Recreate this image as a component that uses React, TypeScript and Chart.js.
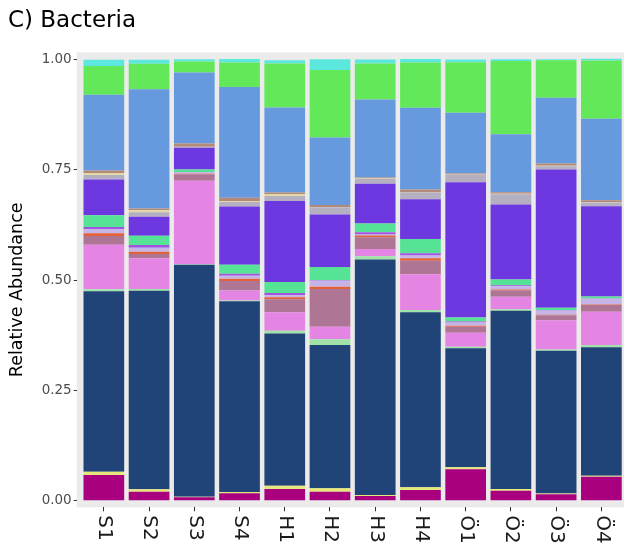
import React, { useEffect, useRef } from "react";
import { Chart, registerables } from "chart.js";

Chart.register(...registerables);

const categories = ["S1", "S2", "S3", "S4", "H1", "H2", "H3", "H4", "Ö1", "Ö2", "Ö3", "Ö4"];
const yTicks = [0, 0.25, 0.5, 0.75, 1.0];

// stacked bottom -> top
const magenta = [0.058, 0.0204, 0.0077, 0.0168, 0.0265, 0.0204, 0.0106, 0.0242, 0.0711, 0.0227, 0.0145, 0.0544];
const yellow = [0.0075, 0.0054, 0.001, 0.003, 0.0075, 0.0077, 0.002, 0.006, 0.0045, 0.0038, 0.002, 0.0023];
const navy = [0.409, 0.45, 0.526, 0.432, 0.345, 0.3246, 0.534, 0.3965, 0.2696, 0.404, 0.323, 0.291];
const lightGreen = [0.0045, 0.004, 0.001, 0.002, 0.006, 0.0129, 0.0075, 0.0052, 0.0036, 0.0032, 0.003, 0.0052];
const pink = [0.101, 0.0696, 0.189, 0.0227, 0.0417, 0.0285, 0.016, 0.081, 0.0317, 0.0285, 0.0664, 0.0754];
const mauve = [0.02, 0.0097, 0.015, 0.0213, 0.0295, 0.0854, 0.027, 0.031, 0.0136, 0.0143, 0.0113, 0.0152];
const orange = [0.006, 0.0052, 0.001, 0.005, 0.0045, 0.0052, 0.004, 0.0054, 0.002, 0.002, 0.001, 0.001];
const lavender = [0.009, 0.009, 0.004, 0.007, 0.005, 0.0136, 0.002, 0.006, 0.0077, 0.0075, 0.0097, 0.0129];
const violet = [0.005, 0.006, 0, 0.0045, 0.005, 0.001, 0.005, 0.0054, 0.002, 0.002, 0.001, 0.001];
const teal = [0.0265, 0.021, 0.006, 0.0204, 0.025, 0.0304, 0.0197, 0.0324, 0.009, 0.013, 0.0054, 0.0045];
const purple = [0.081, 0.043, 0.049, 0.132, 0.1835, 0.1185, 0.0906, 0.09, 0.307, 0.17, 0.313, 0.204];
const grey = [0.0104, 0.01, 0.002, 0.01, 0.011, 0.0165, 0.0106, 0.015, 0.0165, 0.0233, 0.0075, 0.009];
const beige = [0.0045, 0.005, 0, 0.002, 0.004, 0.001, 0.001, 0.001, 0.001, 0.001, 0.001, 0.001];
const tan = [0.006, 0.004, 0.0075, 0.0075, 0.004, 0.0045, 0.0023, 0.006, 0.0023, 0.0038, 0.0054, 0.0036];
const lightBlue = [0.1715, 0.27, 0.161, 0.251, 0.1926, 0.1527, 0.177, 0.185, 0.1375, 0.1314, 0.1486, 0.185];
const green = [0.065, 0.058, 0.025, 0.0557, 0.0997, 0.153, 0.0816, 0.103, 0.1146, 0.166, 0.0854, 0.132];
const cyan = [0.0145, 0.009, 0.005, 0.0077, 0.0075, 0.0242, 0.009, 0.0077, 0.006, 0.0038, 0.002, 0.0038];

const seriesList: [string, number[], string][] = [
  ["magenta", magenta, "#A8007F"],
  ["yellow", yellow, "#E6E87A"],
  ["navy", navy, "#214478"],
  ["lightGreen", lightGreen, "#9FE3A8"],
  ["pink", pink, "#E585E3"],
  ["mauve", mauve, "#AE7595"],
  ["orange", orange, "#E2603A"],
  ["lavender", lavender, "#C6B4E8"],
  ["violet", violet, "#A055E0"],
  ["teal", teal, "#56E396"],
  ["purple", purple, "#6E38E0"],
  ["grey", grey, "#B5AFC2"],
  ["beige", beige, "#E3D9A5"],
  ["tan", tan, "#B3897A"],
  ["lightBlue", lightBlue, "#6699DE"],
  ["green", green, "#62E858"],
  ["cyan", cyan, "#5CE8DF"],
];

const FONT = '"DejaVu Sans", Verdana, sans-serif';

export default function App() {
  const ref = useRef<HTMLCanvasElement | null>(null);

  useEffect(() => {
    const canvas = ref.current!;
    const panelBg = {
      id: "panelBg",
      beforeDraw(chart: any) {
        const { ctx, chartArea } = chart;
        ctx.save();
        ctx.fillStyle = "#EBEBEB";
        ctx.fillRect(chartArea.left, chartArea.top, chartArea.right - chartArea.left, chartArea.bottom - chartArea.top);
        ctx.restore();
      },
    };
    const textLabels = {
      id: "textLabels",
      afterDraw(chart: any) {
        const { ctx, chartArea } = chart;
        const xs = chart.scales.x;
        ctx.save();
        ctx.font = `20px ${FONT}`;
        ctx.fillStyle = "#1A1A1A";
        ctx.textAlign = "left";
        ctx.textBaseline = "middle";
        categories.forEach((c, i) => {
          const x = xs.getPixelForValue(i);
          ctx.save();
          ctx.translate(x + 0.5, xs.top + 8);
          ctx.rotate(Math.PI / 2);
          ctx.fillText(c, 0, 0);
          ctx.restore();
        });
        // y axis title
        ctx.font = `17.5px ${FONT}`;
        ctx.fillStyle = "#000";
        ctx.textAlign = "center";
        ctx.translate(17, (chartArea.top + chartArea.bottom) / 2 + 10);
        ctx.rotate(-Math.PI / 2);
        ctx.fillText("Relative Abundance", 0, 0);
        ctx.restore();
      },
    };

    const chart = new Chart(canvas, {
      type: "bar",
      data: {
        datasets: seriesList.map(([name, vals, color]) => ({
          label: name,
          data: vals.map((v, i) => ({ x: i, y: v })),
          backgroundColor: color,
          borderWidth: 0,
          barPercentage: 0.9,
          categoryPercentage: 1.0,
        })),
      },
      options: {
        responsive: false,
        animation: false,
        devicePixelRatio: 1,
        layout: { padding: { left: 8, right: 11.5, top: 0, bottom: 0 } },
        plugins: {
          legend: { display: false },
          tooltip: { enabled: false },
          title: {
            display: true,
            text: "C) Bacteria",
            align: "start",
            color: "#000",
            font: { family: FONT, size: 23, weight: "normal", lineHeight: 1.2 },
            padding: { top: 7, bottom: 17.7 },
          },
        },
        scales: {
          x: {
            type: "linear",
            stacked: true,
            offset: false,
            min: -0.6,
            max: 11.6,
            afterBuildTicks: (scale: any) => {
              scale.ticks = categories.map((_, i) => ({ value: i }));
            },
            afterFit: (scale: any) => {
              scale.height = 39.7;
            },
            ticks: { display: false },
            grid: { offset: false, drawOnChartArea: false, drawTicks: true, tickLength: 4, color: "#333333", lineWidth: 1 },
            border: { display: false },
          },
          y: {
            type: "linear",
            stacked: true,
            min: -0.015,
            max: 1.016,
            afterBuildTicks: (scale: any) => {
              scale.ticks = yTicks.map((v) => ({ value: v }));
            },
            afterFit: (scale: any) => {
              scale.width = 68.7;
            },
            ticks: {
              color: "#4D4D4D",
              font: { family: FONT, size: 13.5 },
              padding: 2,
              callback: (v: any) => Number(v).toFixed(2),
            },
            grid: { drawOnChartArea: false, drawTicks: true, tickLength: 3, color: "#333333", lineWidth: 1 },
            border: { display: false },
          },
        },
      },
      plugins: [panelBg, textLabels],
    });
    return () => chart.destroy();
  }, []);

  return (
    <div style={{ position: "fixed", left: 0, top: 0, width: 624, height: 547, overflow: "hidden", background: "#fff" }}>
      <canvas ref={ref} width={640} height={547} style={{ width: 640, height: 547, display: "block" }} />
    </div>
  );
}
